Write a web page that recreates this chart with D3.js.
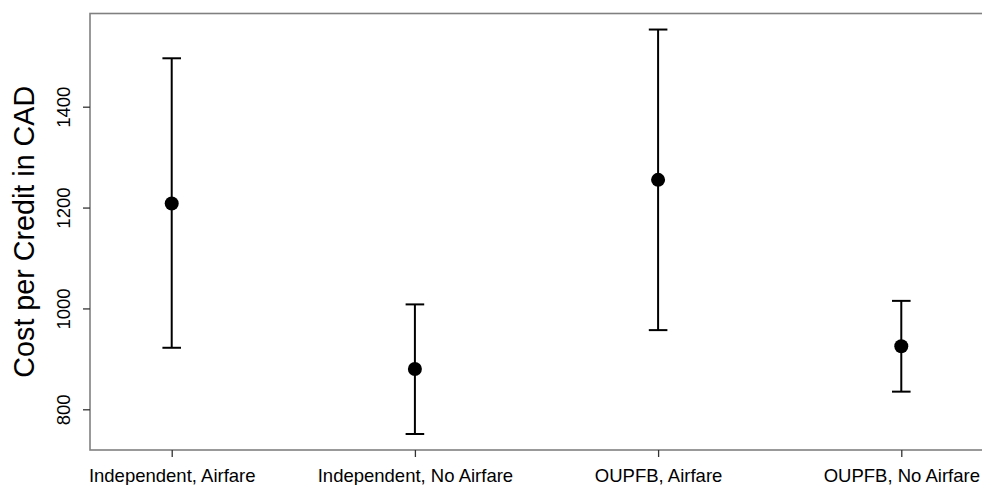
<!DOCTYPE html>
<html>
<head>
<meta charset="utf-8">
<script src="https://cdn.jsdelivr.net/npm/d3@7"></script>
<style>
  html, body { margin: 0; padding: 0; background: #fff; }
  svg { display: block; font-family: "Liberation Sans", Arial, Helvetica, sans-serif; }
</style>
</head>
<body>
<div id="chart"></div>
<script>
// data
var categories = ["Independent, Airfare", "Independent, No Airfare", "OUPFB, Airfare", "OUPFB, No Airfare"];
var means = [1208, 880, 1255, 925];
var lowers = [922, 751, 957, 835];
var uppers = [1496, 1008, 1553, 1015];
var yTicks = [800, 1000, 1200, 1400];

var width = 982, height = 485;
var boxLeft = 90, boxRight = 983, boxTop = 13.5, boxBottom = 450;

var svg = d3.select("#chart").append("svg")
  .attr("width", width)
  .attr("height", height);

var x = d3.scaleLinear().domain([0.664, 4.336]).range([boxLeft, boxRight]);
var y = d3.scaleLinear().domain([719.3, 1584.8]).range([boxBottom, boxTop]);

var rows = categories.map(function(c, i){
  return {name: c, pos: i + 1, mean: means[i], lo: lowers[i], hi: uppers[i]};
});

// plot box
svg.append("rect")
  .attr("x", boxLeft).attr("y", boxTop)
  .attr("width", boxRight - boxLeft).attr("height", boxBottom - boxTop)
  .attr("fill", "none")
  .attr("stroke", "#808080")
  .attr("stroke-width", 1.6);

// y axis
var gy = svg.append("g")
  .attr("transform", "translate(" + boxLeft + ",0)")
  .call(d3.axisLeft(y).tickValues(yTicks).tickSize(7).tickFormat(d3.format("d")));
gy.select(".domain").remove();
gy.selectAll(".tick line").attr("stroke", "#333").attr("stroke-width", 1.3);
gy.selectAll(".tick text")
  .attr("transform", "rotate(-90)")
  .attr("x", 0).attr("y", -20.5).attr("dy", 0)
  .attr("text-anchor", "middle")
  .attr("fill", "#000")
  .style("font-size", "18.5px");

// x axis
var gx = svg.append("g")
  .attr("transform", "translate(0," + boxBottom + ")")
  .call(d3.axisBottom(x).tickValues([1, 2, 3, 4]).tickSize(7)
    .tickFormat(function(d){ return categories[d - 1]; }));
gx.select(".domain").remove();
gx.selectAll(".tick line").attr("stroke", "#333").attr("stroke-width", 1.3);
gx.selectAll(".tick text")
  .attr("y", 31.5).attr("dy", 0)
  .attr("fill", "#000")
  .style("font-size", "18.5px");

// y title
svg.append("text")
  .attr("transform", "translate(34," + ((boxTop + boxBottom) / 2) + ") rotate(-90)")
  .attr("text-anchor", "middle")
  .style("font-size", "28.7px")
  .text("Cost per Credit in CAD");

// error bars
var bars = svg.append("g").selectAll("g").data(rows).enter().append("g");
bars.append("line")
  .attr("x1", function(d){ return x(d.pos); })
  .attr("x2", function(d){ return x(d.pos); })
  .attr("y1", function(d){ return y(d.lo); })
  .attr("y2", function(d){ return y(d.hi); })
  .attr("stroke", "#000").attr("stroke-width", 2);
["lo", "hi"].forEach(function(k){
  bars.append("line")
    .attr("x1", function(d){ return x(d.pos) - 9.3; })
    .attr("x2", function(d){ return x(d.pos) + 9.3; })
    .attr("y1", function(d){ return y(d[k]); })
    .attr("y2", function(d){ return y(d[k]); })
    .attr("stroke", "#000").attr("stroke-width", 2);
});
bars.append("circle")
  .attr("cx", function(d){ return x(d.pos); })
  .attr("cy", function(d){ return y(d.mean); })
  .attr("r", 7)
  .attr("fill", "#000");
</script>
</body>
</html>
